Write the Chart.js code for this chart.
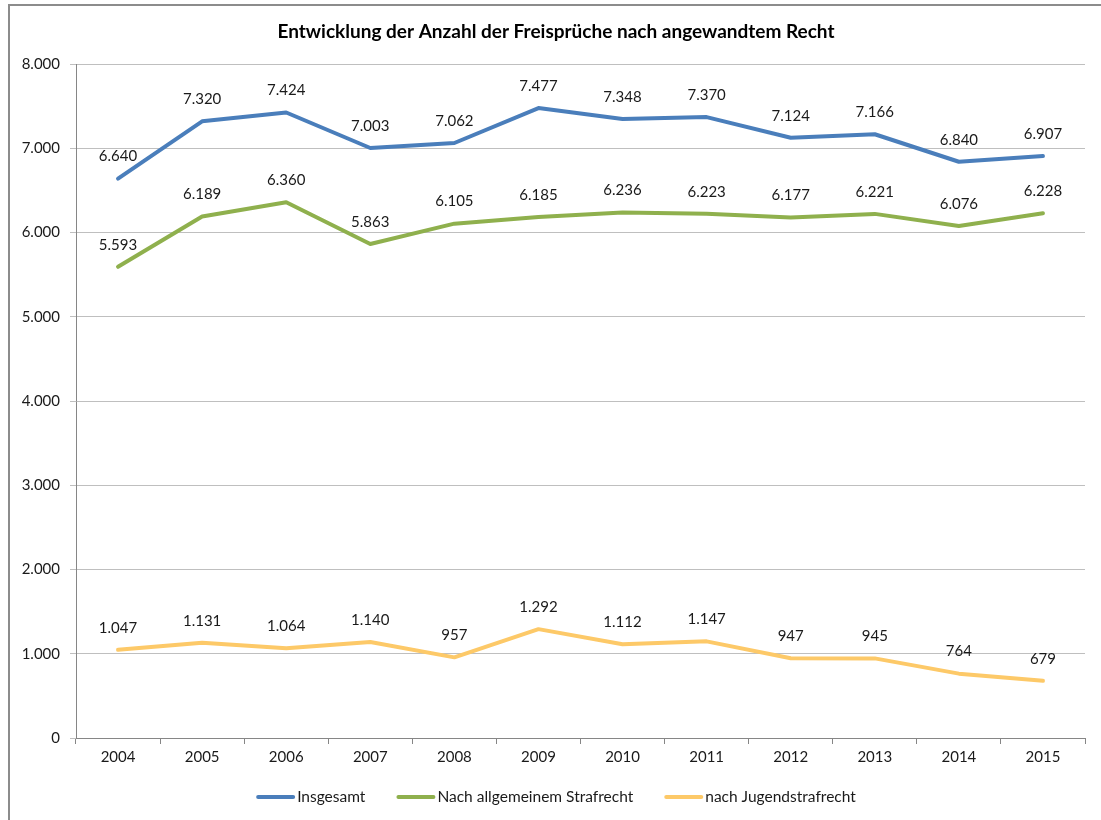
<!DOCTYPE html>
<html>
<head>
<meta charset="utf-8">
<title>Freisprüche</title>
<script src="https://cdn.jsdelivr.net/npm/chart.js@4.4.1/dist/chart.umd.min.js"></script>
<style>
  html, body { margin: 0; padding: 0; background: #fff; }
  canvas { display: block; }
</style>
</head>
<body>
<canvas id="freisprueche" width="1101" height="820"></canvas>
<script>
// Jahre und Anzahl der Freisprüche
const jahre = ['2004', '2005', '2006', '2007', '2008', '2009', '2010', '2011', '2012', '2013', '2014', '2015'];
const insgesamt = [6640, 7320, 7424, 7003, 7062, 7477, 7348, 7370, 7124, 7166, 6840, 6907];
const allgemein = [5593, 6189, 6360, 5863, 6105, 6185, 6236, 6223, 6177, 6221, 6076, 6228];
const jugend = [1047, 1131, 1064, 1140, 957, 1292, 1112, 1147, 947, 945, 764, 679];
const yTicks = [0, 1000, 2000, 3000, 4000, 5000, 6000, 7000, 8000];
const titel = 'Entwicklung der Anzahl der Freisprüche nach angewandtem Recht';

// Tausenderpunkt wie in der deutschen Schreibweise
function fmt(v) {
    return String(v).replace(/\B(?=(\d{3})+(?!\d))/g, '.');
}

// Rahmen um das Diagramm
const rahmen = {
    id: 'rahmen',
    beforeDraw(chart) {
        const ctx = chart.ctx;
        ctx.save();
        ctx.fillStyle = '#fff';
        ctx.fillRect(0, 0, chart.width, chart.height);
        ctx.strokeStyle = '#8c8c8c';
        ctx.lineWidth = 2;
        ctx.strokeRect(9, 5, chart.width + 20, chart.height + 20);
        ctx.restore();
    }
};

// Titel mittig über dem ganzen Rahmen
const ueberschrift = {
    id: 'ueberschrift',
    afterDraw(chart) {
        const ctx = chart.ctx;
        ctx.save();
        ctx.font = 'bold 19px Lato';
        ctx.fillStyle = '#000';
        ctx.textAlign = 'center';
        ctx.textBaseline = 'middle';
        ctx.fillText(titel, 556, 32);
        ctx.restore();
    }
};

// Werte über den Punkten
const werte = {
    id: 'werte',
    afterDatasetsDraw(chart) {
        const ctx = chart.ctx;
        ctx.save();
        ctx.font = '15px Lato';
        ctx.fillStyle = '#1a1a1a';
        ctx.textAlign = 'center';
        ctx.textBaseline = 'middle';
        chart.data.datasets.forEach((ds, i) => {
            chart.getDatasetMeta(i).data.forEach((pt, j) => {
                ctx.fillText(fmt(ds.data[j]), pt.x, pt.y - 22);
            });
        });
        ctx.restore();
    }
};

// Legende unten: kurze Linie direkt vor dem Text
const legende = {
    id: 'legende',
    afterDraw(chart) {
        const ctx = chart.ctx;
        const linie = 35, luecke = 4, abstand = 31, mitte = 556, y = 797;
        ctx.save();
        ctx.font = '15.5px Lato';
        ctx.textBaseline = 'middle';
        const ds = chart.data.datasets;
        const breiten = ds.map(d => linie + 2 + luecke + ctx.measureText(d.label).width);
        const gesamt = breiten.reduce((a, b) => a + b, 0) + abstand * (ds.length - 1);
        let x = mitte - gesamt / 2;
        ds.forEach((d, i) => {
            ctx.strokeStyle = d.borderColor;
            ctx.lineWidth = 4;
            ctx.lineCap = 'round';
            ctx.beginPath();
            ctx.moveTo(x + 2, y);
            ctx.lineTo(x + 2 + linie, y);
            ctx.stroke();
            ctx.fillStyle = '#1a1a1a';
            ctx.fillText(d.label, x + linie + 2 + luecke, y);
            x += breiten[i] + abstand;
        });
        ctx.restore();
    }
};

function linie(label, data, farbe) {
    return {
        label: label,
        data: data,
        borderColor: farbe,
        backgroundColor: farbe,
        borderWidth: 4,
        borderCapStyle: 'round',
        borderJoinStyle: 'round',
        pointRadius: 0,
        tension: 0,
        fill: false
    };
}

new Chart(document.getElementById('freisprueche'), {
    type: 'line',
    data: {
        labels: jahre,
        datasets: [
            linie('Insgesamt', insgesamt, '#4a7ebb'),
            linie('Nach allgemeinem Strafrecht', allgemein, '#8fb04d'),
            linie('nach Jugendstrafrecht', jugend, '#fdc968')
        ]
    },
    options: {
        responsive: false,
        devicePixelRatio: 1,
        animation: false,
        layout: { padding: { left: 0, right: 16, top: 64, bottom: 50 } },
        plugins: {
            title: { display: false },
            legend: { display: false },
            tooltip: { enabled: false }
        },
        scales: {
            x: {
                offset: true,
                grid: {
                    offset: true,
                    drawOnChartArea: false,
                    drawTicks: true,
                    tickLength: 6,
                    color: '#868686'
                },
                border: { color: '#868686', width: 1 },
                ticks: {
                    color: '#1a1a1a',
                    font: { family: 'Lato', size: 15 },
                    padding: 4,
                    maxRotation: 0
                },
                afterFit(scale) { scale.height = 32; }
            },
            y: {
                min: 0,
                max: 8000,
                afterBuildTicks(scale) {
                    scale.ticks = yTicks.map(v => ({ value: v }));
                },
                grid: {
                    color: '#bfbfbf',
                    drawTicks: true,
                    tickLength: 6
                },
                border: { color: '#868686', width: 1 },
                ticks: {
                    color: '#1a1a1a',
                    font: { family: 'Lato', size: 15 },
                    padding: 10,
                    callback: v => fmt(v)
                },
                afterFit(scale) { scale.width = 76; }
            }
        }
    },
    plugins: [rahmen, werte, ueberschrift, legende]
});
</script>
</body>
</html>
